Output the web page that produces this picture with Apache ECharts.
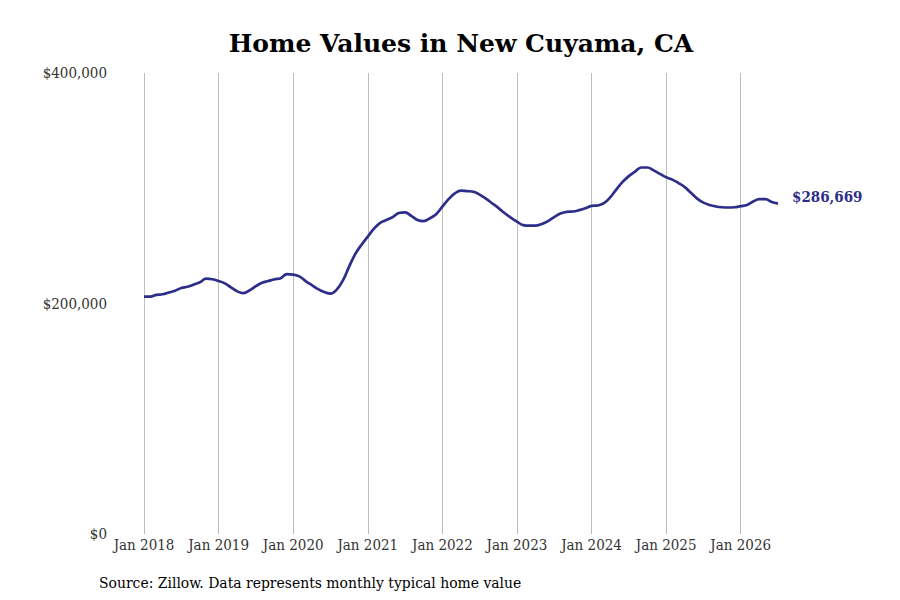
<!DOCTYPE html>
<html>
<head>
<meta charset="utf-8">
<script src="https://cdn.jsdelivr.net/npm/echarts@6/dist/echarts.min.js"></script>
<style>
  html, body { margin: 0; padding: 0; background: #fff; }
  #chart { width: 900px; height: 600px; }
</style>
</head>
<body>
<div id="chart"></div>
<script>
// monthly typical home value, Jan 2018 .. Jul 2026 (in dollars)
var years = ['2018', '2019', '2020', '2021', '2022', '2023', '2024', '2025', '2026'];
var monthNames = ['Jan', 'Feb', 'Mar', 'Apr', 'May', 'Jun', 'Jul', 'Aug', 'Sep', 'Oct', 'Nov', 'Dec'];
var values2018 = [206000, 206000, 207500, 208000, 209500, 211000, 213500, 214500, 216500, 218500, 221500, 221000];
var values2019 = [219500, 217500, 214000, 210500, 209000, 211500, 215000, 218000, 219500, 221000, 222000, 225500];
var values2020 = [225000, 223500, 219500, 216000, 212500, 210000, 208500, 212000, 220000, 232000, 243000, 251000];
var values2021 = [258000, 265000, 270000, 272500, 275000, 278500, 279000, 276000, 272500, 271500, 274000, 277500];
var values2022 = [284000, 290500, 295500, 298000, 297500, 297000, 294500, 291000, 287000, 283000, 278500, 274500];
var values2023 = [271000, 268000, 267500, 267500, 269000, 271500, 275000, 278000, 279500, 279800, 281000, 282600];
var values2024 = [284700, 285000, 287000, 292000, 299000, 305500, 310500, 314500, 318000, 318000, 315500, 312500];
var values2025 = [309500, 307500, 304500, 301000, 296000, 291000, 287500, 285500, 284200, 283500, 283300, 283500];
var values2026 = [284500, 285500, 288500, 290500, 290500, 288000, 286669];
var yTicks = [0, 200000, 400000];

var values = [].concat(values2018, values2019, values2020, values2021, values2022,
                       values2023, values2024, values2025, values2026);
var months = [];
years.forEach(function (y) {
    monthNames.forEach(function (m) {
        if (months.length < values.length) months.push(m + ' ' + y);
    });
});

var lineColor = '#2e2e8a';
var serif = '"DejaVu Serif Condensed", "DejaVu Serif", serif';

function money(v) {
    return '$' + Math.round(v).toLocaleString('en-US');
}

var myChart = echarts.init(document.getElementById('chart'), null, {renderer: 'svg'});

var option = {
    backgroundColor: '#fff',
    animation: false,
    title: [{
        text: 'Home Values in New Cuyama, CA',
        left: 456,
        top: 26,
        textAlign: 'center',
        textStyle: {
            fontFamily: '"DejaVu Serif", serif',
            fontWeight: 'bold',
            fontSize: 25,
            color: '#000'
        }
    }, {
        text: 'Source: Zillow. Data represents monthly typical home value',
        left: 94,
        top: 570,
        textStyle: {
            fontFamily: serif,
            fontWeight: 'normal',
            fontSize: 15.5,
            color: '#000'
        }
    }],
    grid: {
        left: 144,
        right: 122,
        top: 73,
        bottom: 66,
        containLabel: false
    },
    xAxis: {
        type: 'category',
        data: months,
        boundaryGap: false,
        axisLine: {show: false},
        axisTick: {show: false},
        axisLabel: {
            interval: function (index) { return index % 12 === 0; },
            fontFamily: serif,
            fontSize: 15,
            color: '#333',
            margin: 3
        },
        splitLine: {
            show: true,
            interval: function (index) { return index % 12 === 0; },
            lineStyle: {color: '#bdbdbd', width: 1}
        }
    },
    yAxis: {
        type: 'value',
        min: yTicks[0],
        max: yTicks[yTicks.length - 1],
        interval: yTicks[1] - yTicks[0],
        axisLine: {show: false},
        axisTick: {show: false},
        splitLine: {show: false},
        axisLabel: {
            formatter: money,
            fontFamily: serif,
            fontSize: 15,
            color: '#333',
            margin: 37
        }
    },
    series: [{
        type: 'line',
        data: values,
        smooth: 0.4,
        symbol: 'none',
        lineStyle: {color: lineColor, width: 2.7},
        endLabel: {
            show: true,
            distance: 14,
            offset: [0, -7],
            formatter: function (p) { return money(p.value); },
            fontFamily: serif,
            fontWeight: 'bold',
            fontSize: 15,
            color: lineColor
        }
    }]
};

myChart.setOption(option);
</script>
</body>
</html>
